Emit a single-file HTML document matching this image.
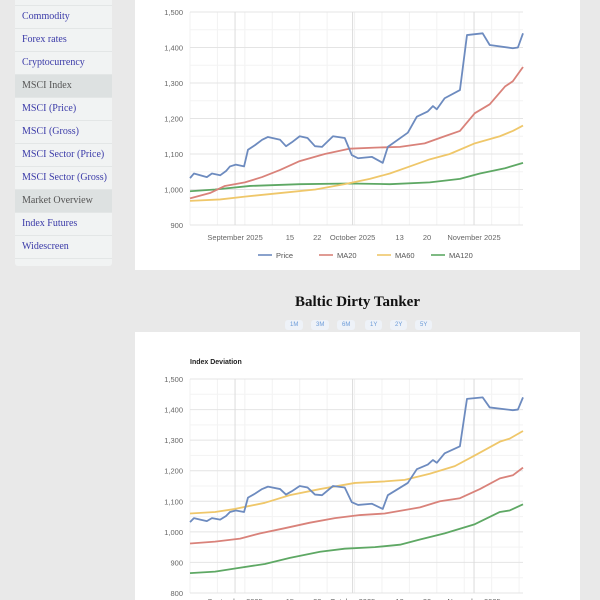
<!DOCTYPE html>
<html><head><meta charset="utf-8"><style>
body{margin:0;width:600px;height:600px;overflow:hidden;background:#e9e9e9;font-family:"Liberation Sans",sans-serif;position:relative}
.side{position:absolute;left:15px;top:0;width:97px;height:266px;background:#f1f3f3;border-radius:0 0 3px 3px}
.side div{height:22px;line-height:22px;font-family:"Liberation Serif",serif;font-size:10px;color:#3a3aa8;padding-left:7px;border-bottom:1px solid #e3e6e6}
.side div.h{background:#dde1e1;color:#555;}
.card{position:absolute;left:135px;width:445px;background:#fff}
.title{position:absolute;left:0;width:715px;top:294px;text-align:center;font-family:"Liberation Serif",serif;font-weight:bold;font-size:15px;color:#111}
.btn{position:absolute;top:320px;font-size:6px;color:#6a9ad8;background:#eef2f8;padding:2px 5px;border-radius:3px}
svg{position:absolute;left:0;top:0}
</style></head><body>
<div class="side">
<div style="height:5px"></div>
<div>Commodity</div>
<div>Forex rates</div>
<div>Cryptocurrency</div>
<div class="h">MSCI Index</div>
<div>MSCI (Price)</div>
<div>MSCI (Gross)</div>
<div>MSCI Sector (Price)</div>
<div>MSCI Sector (Gross)</div>
<div class="h">Market Overview</div>
<div>Index Futures</div>
<div>Widescreen</div>
</div>
<div class="card" style="top:0;height:270px"></div>
<div class="card" style="top:332px;height:268px"></div>
<div class="title">Baltic Dirty Tanker</div>
<span class="btn" style="left:285px">1M</span>
<span class="btn" style="left:311px">3M</span>
<span class="btn" style="left:337px">6M</span>
<span class="btn" style="left:365px">1Y</span>
<span class="btn" style="left:390px">2Y</span>
<span class="btn" style="left:415px">5Y</span>
<svg id="s" width="600" height="600"></svg>
<script>
const priceDays=[0,1,2.6,4.3,5.6,7.7,9.2,10.2,11.7,13.8,14.8,16.6,18.4,19.9,23,24.5,26,28,30,31.9,33.7,36.5,39.5,41.3,42.9,46.4,49.2,50.5,55.6,57.9,60.7,62,63,65,68.9,70.7,74.7,76.5,82.4,83.7,85];
const priceVals=[1032,1045,1040,1035,1045,1040,1052,1065,1070,1065,1112,1125,1140,1148,1140,1122,1133,1150,1145,1122,1120,1150,1145,1097,1088,1092,1075,1120,1160,1205,1220,1235,1226,1257,1280,1435,1440,1407,1398,1400,1440];
const topMaDays20=[0,5.1,8.9,14,18.4,23,28,34.4,40.8,47.2,53.6,59.9,65,68.9,72.7,76.5,80.4,82.4,85];
const topMa20=[975,990,1010,1020,1035,1055,1080,1100,1115,1118,1120,1130,1150,1165,1215,1240,1290,1305,1345];
const topMaDays60=[0,7.7,14,23,32,39.5,45.9,51,56.1,61.2,66.3,72.7,79.1,82.4,85];
const topMa60=[968,972,980,990,1000,1015,1030,1045,1065,1085,1100,1130,1150,1165,1180];
const topMaDays120=[0,6.4,15.3,28,40.8,51,61.2,68.9,74,80.4,85];
const topMa120=[995,1000,1010,1015,1017,1015,1020,1030,1045,1060,1075];
const botMaDays20=[0,6.4,12.8,17.9,24.2,30.6,37,43.4,49.7,58.7,63.8,68.9,74,79.1,82.4,85];
const botMa20=[962,968,978,995,1012,1030,1045,1055,1060,1080,1100,1110,1140,1175,1185,1210];
const botMaDays60=[0,6.4,11.5,19.1,25.5,33.2,42.1,49.7,54.8,61.2,67.6,72.7,79.1,81.6,85];
const botMa60=[1060,1065,1075,1095,1120,1140,1160,1165,1170,1190,1215,1250,1295,1305,1330];
const botMaDays120=[0,6.4,11.5,19.1,25.5,33.2,39.5,47.2,53.6,58.7,65,72.7,79.1,81.6,85];
const botMa120=[865,870,880,895,915,935,945,950,958,975,995,1025,1065,1070,1090];
const xTickDays=[11.5,25.5,32.5,41.5,53.5,60.5,72.5];
const xTickLabels=["September 2025","15","22","October 2025","13","20","November 2025"];
const majorTicks=[0,3,6];
const topYTicks=[900,1000,1100,1200,1300,1400,1500];
const botYTicks=[800,900,1000,1100,1200,1300,1400,1500];
const colors={price:"#6d8bbf",ma20:"#d9827a",ma60:"#efc76a",ma120:"#5ea864"};
const legendLabels=["Price","MA20","MA60","MA120"];
const NS="http://www.w3.org/2000/svg",S=document.getElementById('s');
function el(t,a,p){const e=document.createElementNS(NS,t);for(const k in a)e.setAttribute(k,a[k]);(p||S).appendChild(e);return e;}
const X=d=>190+d*(333/85);
function chart(prefix,y0,y1,vmin,vmax,yTicks,series,labelY){
  const Y=v=>y1-(v-vmin)/(vmax-vmin)*(y1-y0);
  const g=el('g',{});
  
  
  for(let d=0;d<=85;d+=7){el('line',{x1:X(d),x2:X(d),y1:y0,y2:y1,stroke:'#f2f2f2','stroke-width':1},g);}
  for(let v=vmin;v<=vmax;v+=50){el('line',{x1:190,x2:523,y1:Y(v),y2:Y(v),stroke:v%100?'#f3f3f3':'#e4e4e4','stroke-width':1},g);}
  yTicks.forEach(v=>{const t=el('text',{x:183,y:Y(v)+3,'text-anchor':'end','font-size':7.5,fill:'#666'},g);t.textContent=v.toLocaleString('en-US');
    
    });
  xTickDays.forEach((d,i)=>{
    if(majorTicks.includes(i))el('line',{x1:X(d),x2:X(d),y1:y0,y2:y1,stroke:'#dcdcdc','stroke-width':1},g);
    const t=el('text',{x:X(d),y:labelY,'text-anchor':'middle','font-size':7.5,fill:'#666'},g);t.textContent=xTickLabels[i];
    
    });
  series.forEach(([name,days,vals,c])=>{
    const p=el('polyline',{points:days.map((d,i)=>X(d)+','+Y(vals[i])).join(' '),fill:'none',stroke:c,'stroke-width':1.8,'stroke-linejoin':'round'},g);
    
    
  });
}
chart('top',12,225,900,1500,topYTicks,[['ma120',topMaDays120,topMa120,colors.ma120],['ma60',topMaDays60,topMa60,colors.ma60],['ma20',topMaDays20,topMa20,colors.ma20],['price',priceDays,priceVals,colors.price]],240);
chart('bottom',379,593,800,1500,botYTicks,[['ma120',botMaDays120,botMa120,colors.ma120],['ma60',botMaDays60,botMa60,colors.ma60],['ma20',botMaDays20,botMa20,colors.ma20],['price',priceDays,priceVals,colors.price]],604);
const lx=[258,319,377,431],lc=[colors.price,colors.ma20,colors.ma60,colors.ma120];
legendLabels.forEach((s,i)=>{
  const g=el('g',{});
  
  
  el('line',{x1:lx[i],x2:lx[i]+14,y1:255,y2:255,stroke:lc[i],'stroke-width':1.6},g);
  const t=el('text',{x:lx[i]+18,y:258,'font-size':7.5,fill:'#555'},g);t.textContent=s;
});
const tt=el('text',{x:190,y:364,'font-size':7,'font-weight':'bold',fill:'#222'});tt.textContent='Index Deviation';


</script>
</body></html>
